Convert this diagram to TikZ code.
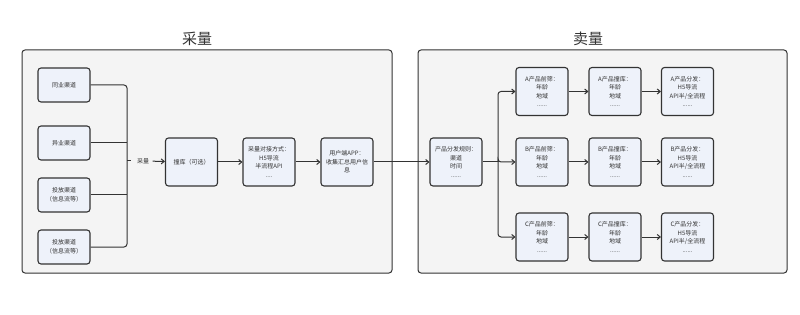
\documentclass[tikz,border=0pt]{standalone}
\usepackage{fontspec}
\newfontfamily\cjk{Noto Sans CJK SC}
\usetikzlibrary{arrows.meta}
\definecolor{boxfill}{HTML}{EEF2FA}
\definecolor{panefill}{HTML}{F4F4F4}
\definecolor{edge}{HTML}{333333}
\tikzset{
  pane/.style={draw=edge, fill=panefill, line width=1pt, rounded corners=3pt},
  title/.style={font=\cjk\fontsize{15}{17}\selectfont, text=edge},
  box/.style={draw=edge, fill=boxfill, line width=1.1pt, rounded corners=3pt,
    minimum width=52pt, minimum height=48pt, align=center, inner sep=1pt,
    font=\cjk\fontsize{6}{8.5}\selectfont, text=edge},
  srcbox/.style={box, minimum height=34pt},
  link/.style={draw=edge, line width=1pt, rounded corners=3pt},
  flow/.style={link, -{Straight Barb[length=3pt,width=5pt]}}
}
\begin{document}
\begin{tikzpicture}[x=1pt,y=-1pt]
    \useasboundingbox (0,0) rectangle (800,315);
    % two panes
    \draw[pane] (22,50) rectangle (392,273);
    \draw[pane] (418,50) rectangle (787,273);
    \node[title] (buyt) at (197,39) {采量};
    \node[title] (sellt) at (588,39) {卖量};
    % sources
    \node[srcbox] (s1) at (64,85) {同业渠道};
    \node[srcbox] (s2) at (64,143) {异业渠道};
    \node[srcbox] (s3) at (64,195) {投放渠道\\（信息流等）};
    \node[srcbox] (s4) at (64,247) {投放渠道\\（信息流等）};
    \coordinate (bt) at (127,85);
    \coordinate (bb) at (127,247);
    \coordinate (bm) at (127,161);
    \coordinate (bp) at (131,161);
    \draw[link] (s1.east) -- (bt) -- (bb) -- (s4.east);
    \draw[link] (s2.east) -- (s2.east -| bt);
    \draw[link] (s3.east) -- (s3.east -| bt);
    \draw[link, rounded corners=0pt] (bm) -- (bp);
    \node[font=\cjk\fontsize{6}{8}\selectfont, text=edge] (cl) at (143,161) {采量};
    % collecting chain
    \node[box] (hit) at (191.5,162) {撞库（可选）};
    \node[box] (way) at (269,162) {采量对接方式：\\H5导流\\半流程API\\....};
    \node[box] (app) at (347,162) {用户端APP：\\收集汇总用户信\\息};
    \draw[flow] (cl) -- (hit);
    \draw[flow] (hit) -- (way);
    \draw[flow] (way) -- (app);
    % selling side
    \node[box] (rule) at (456,162) {产品分发规则：\\渠道\\时间\\......};
    \draw[flow] (app) -- (rule);
    \coordinate (fork) at (498,162);
    \foreach \p/\y in {A/91.5, B/162, C/237} {
      \node[box] (f\p) at (542,\y) {\p 产品前筛：\\年龄\\地域\\......};
      \node[box] (h\p) at (615,\y) {\p 产品撞库：\\年龄\\地域\\......};
      \node[box] (d\p) at (687.5,\y) {\p 产品分发：\\H5导流\\API半/全流程\\......};
      \draw[flow] (fork) |- (f\p.west);
      \draw[flow] (f\p) -- (h\p);
      \draw[flow] (h\p) -- (d\p);
    }
    \draw[link] (rule.east) -- (fork);
\end{tikzpicture}
\end{document}
